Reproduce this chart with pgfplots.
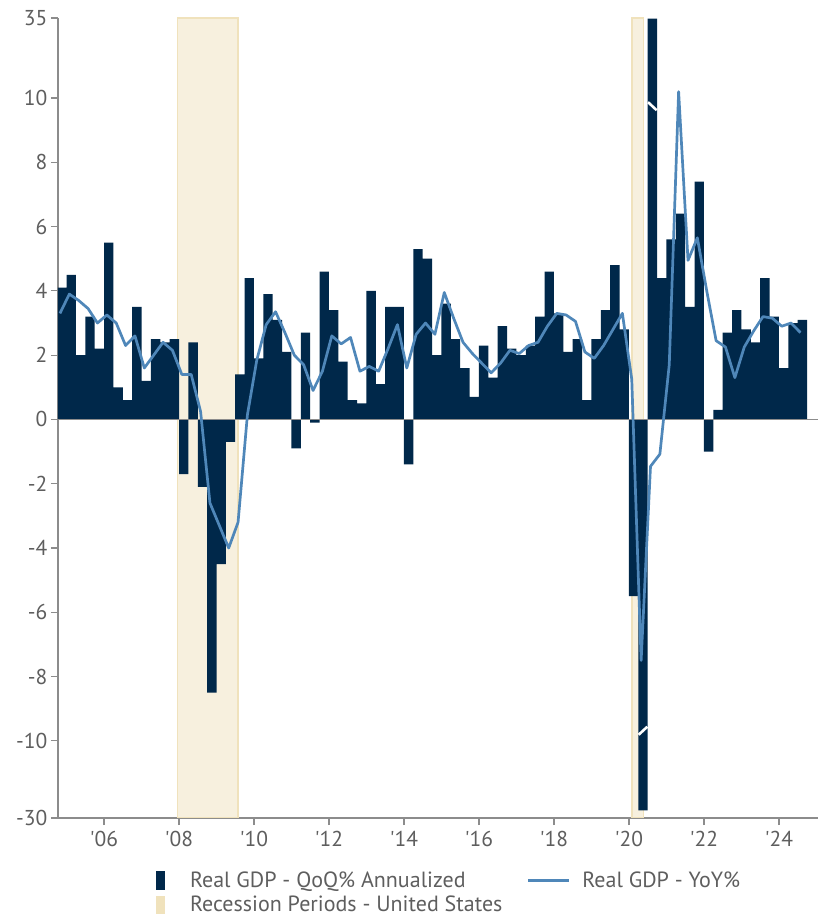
\documentclass[border=0pt]{standalone}
\usepackage{fontspec}
\setmainfont{PT Sans}
\usepackage{pgfplots}
\pgfplotsset{compat=1.18}
\usepackage{pgfplotstable}
\definecolor{navy}{HTML}{00284A}
\definecolor{yoyc}{HTML}{4F87B9}
\definecolor{recfill}{HTML}{F7F0DE}
\definecolor{recedge}{HTML}{F0E2BC}
\definecolor{axgray}{HTML}{8C8C8C}
\definecolor{txtgray}{HTML}{5E5E5E}

\pgfplotstableread{
t qoq yoy
2004.875 4.1 3.3
2005.125 4.5 3.9
2005.375 2.0 3.7
2005.625 3.2 3.45
2005.875 2.2 3.0
2006.125 5.5 3.25
2006.375 1.0 3.0
2006.625 0.6 2.3
2006.875 3.5 2.6
2007.125 1.2 1.6
2007.375 2.5 2.0
2007.625 2.4 2.4
2007.875 2.5 2.15
2008.125 -1.7 1.4
2008.375 2.4 1.4
2008.625 -2.1 0.25
2008.875 -8.5 -2.6
2009.125 -4.5 -3.3
2009.375 -0.7 -4.0
2009.625 1.4 -3.2
2009.875 4.4 0.15
2010.125 1.9 1.85
2010.375 3.9 2.95
2010.625 3.1 3.35
2010.875 2.1 2.7
2011.125 -0.9 2.0
2011.375 2.7 1.7
2011.625 -0.1 0.9
2011.875 4.6 1.5
2012.125 3.4 2.6
2012.375 1.8 2.35
2012.625 0.6 2.55
2012.875 0.5 1.5
2013.125 4.0 1.65
2013.375 1.1 1.5
2013.625 3.5 2.2
2013.875 3.5 2.95
2014.125 -1.4 1.6
2014.375 5.3 2.65
2014.625 5.0 3.0
2014.875 2.0 2.65
2015.125 3.6 3.95
2015.375 2.5 3.15
2015.625 1.6 2.4
2015.875 0.7 2.05
2016.125 2.3 1.75
2016.375 1.3 1.45
2016.625 2.9 1.75
2016.875 2.2 2.15
2017.125 2.0 2.05
2017.375 2.3 2.3
2017.625 3.2 2.4
2017.875 4.6 2.9
2018.125 3.3 3.3
2018.375 2.1 3.25
2018.625 2.5 3.05
2018.875 0.6 2.1
2019.125 2.5 1.9
2019.375 3.4 2.3
2019.625 4.8 2.8
2019.875 2.8 3.3
2020.125 -5.5 1.25
2020.375 -28.0 -7.5
2020.625 34.8 -1.46
2020.875 4.4 -1.08
2021.125 5.6 1.7
2021.375 6.4 12.0
2021.625 3.5 4.95
2021.875 7.4 5.65
2022.125 -1.0 4.0
2022.375 0.3 2.45
2022.625 2.7 2.25
2022.875 3.4 1.3
2023.125 2.8 2.25
2023.375 2.4 2.75
2023.625 4.4 3.2
2023.875 3.2 3.15
2024.125 1.6 2.9
2024.375 3.0 3.0
2024.625 3.1 2.7
}\gdp

\begin{document}
\begin{tikzpicture}[x=1pt,y=1pt]
\useasboundingbox (0,0) rectangle (819,920);
\begin{axis}[
  at={(57.9pt,102pt)}, anchor=south west,
  scale only axis, width=760pt, height=800pt,
  xmin=2004.77, xmax=2025.04, ymin=-12.40, ymax=12.49,
  y filter/.expression={y>10 ? 10+(y-10)*0.0996 : (y<-10 ? -10+(y+10)*0.12 : y)},
  axis x line*=bottom, axis y line*=left,
  axis line style={draw=axgray, line width=1.2pt, -},
  tick align=outside, major tick length=7pt,
  tick style={draw=axgray, line width=1.2pt},
  xtick={2006,2008,2010,2012,2014,2016,2018,2020,2022,2024},
  xticklabels={\textquotesingle06,\textquotesingle08,\textquotesingle10,\textquotesingle12,\textquotesingle14,\textquotesingle16,\textquotesingle18,\textquotesingle20,\textquotesingle22,\textquotesingle24},
  ytick={-12.4,-10,-8,-6,-4,-2,0,2,4,6,8,10,12.49},
  yticklabels={-30,-10,-8,-6,-4,-2,0,2,4,6,8,10,35},
  tick label style={font=\fontsize{21.5}{24}\selectfont, text=txtgray},
  xticklabel style={yshift=-3pt},
  minor tick num=0,
  legend columns=2,
  legend cell align=left,
  legend style={at={(0.1247,-0.0620)}, anchor=north west, draw=none, fill=none,
    font=\fontsize{22}{24}\selectfont, text=txtgray,
    /tikz/every even column/.append style={column sep=0pt}, row sep=3pt},
]
\addlegendimage{legend image code/.code={\fill[navy] (0pt,-8.8pt) rectangle (8.3pt,8.8pt); \path[draw=none,fill=none] (0pt,0pt) rectangle (32pt,0.1pt);}}
\addlegendentry{\makebox[335pt][l]{Real GDP - QoQ\% Annualized}}
\addlegendimage{legend image code/.code={\draw[yoyc, line width=2.7pt] (0pt,0pt) -- (41pt,0pt); \path[draw=none,fill=none] (0pt,0pt) rectangle (52pt,0.1pt);}}
\addlegendentry{Real GDP - YoY\%}
\addlegendimage{legend image code/.code={\fill[recedge] (0pt,-8.8pt) rectangle (8.3pt,8.8pt); \path[draw=none,fill=none] (0pt,0pt) rectangle (32pt,0.1pt);}}
\addlegendentry{\makebox[335pt][l]{Recession Periods - United States}}

\addplot[fill=recfill, draw=recedge, line width=1.5pt, forget plot] coordinates {(2007.96,-30) (2007.96,35) (2009.58,35) (2009.58,-30)} -- cycle;
\addplot[fill=recfill, draw=recedge, line width=1.5pt, forget plot] coordinates {(2020.08,-30) (2020.08,35) (2020.39,35) (2020.39,-30)} -- cycle;

\addplot[ybar, bar width=0.25, bar shift=0pt, fill=navy, draw=none, forget plot] table[x=t, y=qoq] {\gdp};

% axis-break cuts in the two bars that run off the scale
\addplot[white, line width=2.6pt, forget plot] coordinates {(2020.51,9.87) (2020.74,9.62)};
\addplot[white, line width=2.6pt, forget plot] coordinates {(2020.26,-9.81) (2020.49,-9.56)};

\addplot[axgray, line width=1.2pt, forget plot] coordinates {(2004.77,0) (2025.04,0)};

\addplot[yoyc, line width=2.7pt, line join=round, forget plot] table[x expr=\thisrow{t}-0.05, y=yoy] {\gdp};
\end{axis}
\end{tikzpicture}
\end{document}
